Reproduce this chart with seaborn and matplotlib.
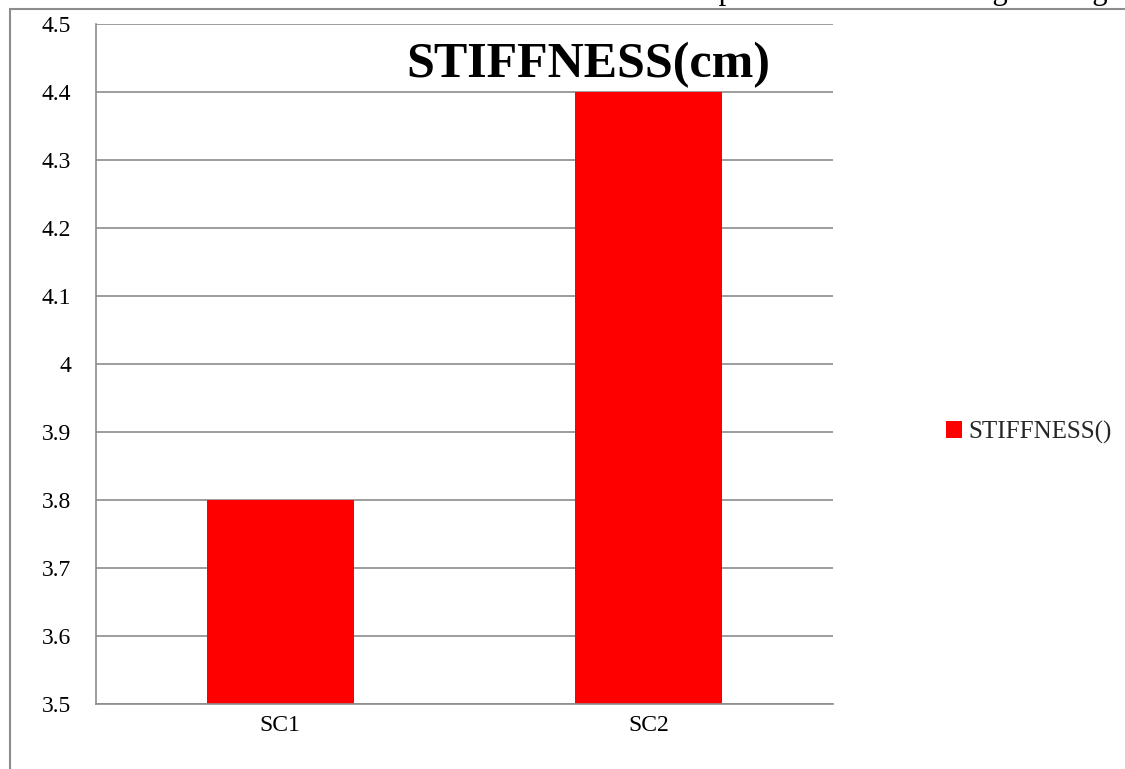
import matplotlib
matplotlib.use("Agg")
import matplotlib.pyplot as plt
import seaborn as sns
import pandas as pd
from matplotlib.lines import Line2D
from matplotlib.patches import Rectangle

categories = ["SC1", "SC2"]
stiffness = [3.8, 4.4]
series_name = "STIFFNESS()"
y_ticks = [3.5, 3.6, 3.7, 3.8, 3.9, 4.0, 4.1, 4.2, 4.3, 4.4, 4.5]
y_labels = ["3.5", "3.6", "3.7", "3.8", "3.9", "4", "4.1", "4.2", "4.3", "4.4", "4.5"]

sns.set_theme(style="white")
plt.rcParams["font.family"] = ["Liberation Serif", "DejaVu Serif"]

df = pd.DataFrame({"cat": categories, "val": stiffness, "series": series_name})

fig = plt.figure(figsize=(11.25, 7.69), dpi=100)
ax = fig.add_axes([96 / 1125, 1 - 704 / 769, (833 - 96) / 1125, (704 - 24) / 769])

grid_c = "#8c8c8c"
sns.barplot(data=df, x="cat", y="val", hue="series", palette=["#ff0000"],
            width=0.4, ax=ax, legend=False, saturation=1, linewidth=0)

ax.set_ylim(3.5, 4.5)
ax.set_xlim(-0.5, 1.5)
ax.set_yticks(y_ticks)
ax.set_yticklabels(y_labels, fontsize=17)
ax.set_xticks([0, 1])
ax.set_xticklabels(categories, fontsize=17)
ax.set_xlabel("")
ax.set_ylabel("")
ax.yaxis.grid(True, color=grid_c, linewidth=1.2)
ax.set_axisbelow(True)

for s in ["top", "right"]:
    ax.spines[s].set_visible(False)
for s in ["left", "bottom"]:
    ax.spines[s].set_color(grid_c)
    ax.spines[s].set_linewidth(1.2)

# tick marks: y ticks outward, x ticks between categories
ax.tick_params(axis="y", direction="out", length=6, color=grid_c, width=1.2,
               pad=12, labelcolor="black")
ax.tick_params(axis="x", length=0, pad=8, labelcolor="black")
ax.set_xticks([-0.5, 0.5, 1.5], minor=True)
ax.tick_params(axis="x", which="minor", direction="out", length=6, color=grid_c, width=1.2)

ax.text(0.668, 0.922, "STIFFNESS(cm)", transform=ax.transAxes, ha="center", va="baseline",
        fontsize=36, fontweight="bold", color="black")

# legend entry
handle = Rectangle((0, 0), 1, 1, facecolor="#ff0000", edgecolor="none")
fig.legend([handle], [series_name], loc="center left",
           bbox_to_anchor=(933 / 1125, 1 - 432 / 769), frameon=False,
           fontsize=18, handlelength=0.65, handleheight=0.65, handletextpad=0.25,
           borderpad=0)

# chart frame and page header rule
fig.add_artist(Line2D([10 / 1125, 10 / 1125], [0, 1 - 9 / 769], color=grid_c, linewidth=1.5))
fig.add_artist(Line2D([10 / 1125, 1], [1 - 9 / 769, 1 - 9 / 769], color=grid_c, linewidth=1.5))
fig.text(683 / 1125, 1 + 1 / 769, "Department of Textile Engineering", fontsize=22,
         ha="left", va="baseline", color="black")

fig.savefig("out.png", dpi=100)
